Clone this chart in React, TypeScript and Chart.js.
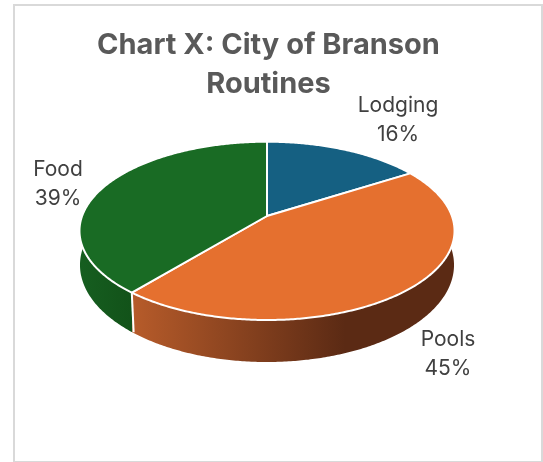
import React, { useEffect, useRef } from "react";
import { Chart, registerables } from "chart.js";

Chart.register(...registerables);

const titleLines = ["Chart X: City of Branson", "Routines"];
const categories = ["Lodging", "Pools", "Food"];
const shares = [16, 45, 39];
const sliceColors = ["#156082", "#E5702F", "#196B24"];
const wallStops = [
  ["#0f4760", "#0f4760"],
  ["#B65B2A", "#5B2A14"],
  ["#165E20", "#125219"],
];
const wallRanges = [
  [267, 410],
  [134, 345],
  [80, 133],
];
const labelAnchors = [
  [398, 106],
  [448, 340],
  [58, 170],
];

const FONT = "Inter, sans-serif";

// Perspective views of the pie's top and bottom disks: (u, v) on the unit disk -> canvas pixels
const TOP_PLANE = { d: 184.9, a: 50.7, b: 216 };
const BOTTOM_PLANE = { d: 184.4, a: 52.85, b: 248.85 };
const project = (u: number, v: number, p = TOP_PLANE): [number, number] => {
  const w = 1 - 0.1666 * v;
  return [267 + (p.d * u) / w, (p.b + p.a * v) / w];
};

const rimPoints = (start: number, end: number, p = TOP_PLANE) => {
  const n = Math.max(2, Math.ceil((end - start) / 0.01));
  const pts: [number, number][] = [];
  for (let i = 0; i <= n; i++) {
    const a = start + ((end - start) * i) / n;
    pts.push(project(Math.cos(a), Math.sin(a), p));
  }
  return pts;
};

const pie3d = {
  id: "pie3d",
  beforeDatasetsDraw(chart: any) {
    const { ctx } = chart;
    const arcs = chart.getDatasetMeta(0).data;
    ctx.save();
    ctx.lineJoin = "round";
    // side walls, back to front
    arcs.forEach((arc: any, i: number) => {
      const top = rimPoints(arc.startAngle, arc.endAngle);
      const bottom = rimPoints(arc.startAngle, arc.endAngle, BOTTOM_PLANE).reverse();
      const g = ctx.createLinearGradient(wallRanges[i][0], 0, wallRanges[i][1], 0);
      g.addColorStop(0, wallStops[i][0]);
      g.addColorStop(1, wallStops[i][1]);
      ctx.beginPath();
      [...top, ...bottom].forEach(([x, y], k) => (k ? ctx.lineTo(x, y) : ctx.moveTo(x, y)));
      ctx.closePath();
      ctx.fillStyle = g;
      ctx.fill();
    });
    // seam between the Pools and Food walls
    const seamAngle = arcs[1].endAngle;
    const [sx, sy] = project(Math.cos(seamAngle), Math.sin(seamAngle));
    const [ex, ey] = project(Math.cos(seamAngle), Math.sin(seamAngle), BOTTOM_PLANE);
    ctx.strokeStyle = "#ffffff";
    ctx.lineWidth = 2;
    ctx.beginPath();
    ctx.moveTo(sx, sy);
    ctx.lineTo(ex + 1.5, ey);
    ctx.stroke();
    // top faces
    arcs.forEach((arc: any, i: number) => {
      const [ax, ay] = project(0, 0);
      ctx.beginPath();
      ctx.moveTo(ax, ay);
      rimPoints(arc.startAngle, arc.endAngle).forEach(([x, y]) => ctx.lineTo(x, y));
      ctx.closePath();
      ctx.fillStyle = sliceColors[i];
      ctx.fill();
      ctx.strokeStyle = "#ffffff";
      ctx.lineWidth = 2;
      ctx.stroke();
    });
    ctx.restore();
    return false;
  },
  afterDraw(chart: any) {
    const { ctx } = chart;
    ctx.save();
    ctx.fillStyle = "#404040";
    ctx.font = `21px ${FONT}`;
    ctx.textAlign = "center";
    ctx.textBaseline = "middle";
    categories.forEach((name, i) => {
      const [x, y] = labelAnchors[i];
      ctx.fillText(name, x, y);
      ctx.fillText(`${shares[i]}%`, x, y + 29);
    });
    ctx.restore();
  },
};

export default function App() {
  const ref = useRef<HTMLCanvasElement>(null);
  useEffect(() => {
    const chart = new Chart(ref.current as HTMLCanvasElement, {
      type: "pie",
      data: {
        labels: categories,
        datasets: [{ data: shares, backgroundColor: sliceColors, borderColor: "#ffffff" }],
      },
      options: {
        responsive: false,
        animation: false,
        rotation: 0,
        layout: { padding: 0 },
        plugins: {
          legend: { display: false },
          tooltip: { enabled: false },
          title: {
            display: true,
            text: titleLines,
            color: "#595959",
            font: { family: FONT, size: 29, weight: "bold", lineHeight: 1.34 },
            padding: { top: 26, bottom: 10 },
          },
        },
      },
      plugins: [pie3d],
    } as any);
    return () => chart.destroy();
  }, []);
  return (
    <div style={{ position: "absolute", left: 0, top: 0, width: 543, height: 462, background: "#fff", overflow: "hidden" }}>
      <div
        style={{
          position: "absolute",
          left: 13,
          top: 4,
          width: 526,
          height: 455,
          border: "2px solid #d9d9d9",
          boxSizing: "content-box",
        }}
      />
      <canvas ref={ref} width={537} height={462} style={{ position: "absolute", left: 0, top: 0, width: 537, height: 462 }} />
    </div>
  );
}
